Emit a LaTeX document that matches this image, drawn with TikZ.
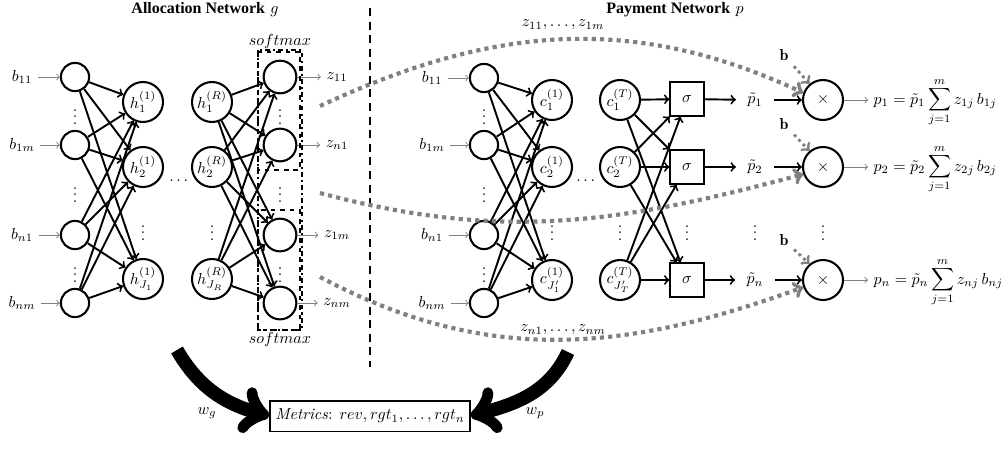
\documentclass[tikz,border=0pt]{standalone}
\usepackage{amsmath}
\usepackage{fontspec}
\newfontfamily\titlefont{Liberation Serif}

\begin{document}
\begin{tikzpicture}[x=0.022cm, y=0.022cm, >=to,
    inpt/.style={circle, draw, line width=1.3pt, inner sep=0pt, minimum size=0.62cm},
    hidn/.style={circle, draw, line width=1.3pt, inner sep=0pt, minimum size=0.88cm},
    outpt/.style={circle, draw, line width=1.3pt, inner sep=0pt, minimum size=0.72cm},
    sigbox/.style={rectangle, draw, line width=1.3pt, inner sep=0pt, minimum size=0.73cm},
    conn/.style={->, line width=1.2pt},
    inarr/.style={->, gray, line width=0.6pt},
    zflow/.style={->, gray, line width=2.6pt, dash pattern=on 2.6pt off 2.6pt},
    bflow/.style={->, gray, line width=1.8pt, dash pattern=on 1.8pt off 2.2pt},
    bigarr/.style={->, line width=8.5pt}]

  \useasboundingbox (0,0) rectangle (1003,-448);

  % titles and divider
  \node (atitle) at (205,-10) {{\titlefont\bfseries Allocation Network} $g$};
  \node (ptitle) at (675,-10) {{\titlefont\bfseries Payment Network} $p$};
  \draw[line width=1.4pt, dash pattern=on 5pt off 3.5pt] (370,-8) -- (370,-367);

  % allocation network
  \node[inpt] (ain1) at (75,-77) {};
  \node[inpt] (ain2) at (75,-145) {};
  \node[inpt] (ain3) at (75,-235) {};
  \node[inpt] (ain4) at (75,-303) {};
  \node (ab1) at (22,-77) {$b_{11}$};
  \node (ab2) at (22,-145) {$b_{1m}$};
  \node (ab3) at (22,-235) {$b_{n1}$};
  \node (ab4) at (22,-303) {$b_{nm}$};
  \foreach \i in {1,...,4} \draw[inarr] (ab\i) -- (ain\i);

  \node[hidn] (ha1) at (143,-102) {$h^{(1)}_1$};
  \node[hidn] (ha2) at (143,-167) {$h^{(1)}_2$};
  \node[hidn] (ha3) at (143,-279) {$h^{(1)}_{J_1}$};
  \node[hidn] (hr1) at (212,-102) {$h^{(R)}_1$};
  \node[hidn] (hr2) at (212,-167) {$h^{(R)}_2$};
  \node[hidn] (hr3) at (212,-279) {$h^{(R)}_{J_R}$};

  \node[outpt] (aout1) at (280,-77) {};
  \node[outpt] (aout2) at (280,-145) {};
  \node[outpt] (aout3) at (280,-235) {};
  \node[outpt] (aout4) at (280,-303) {};
  \node (az1) at (337,-77) {$z_{11}$};
  \node (az2) at (337,-145) {$z_{n1}$};
  \node (az3) at (337,-235) {$z_{1m}$};
  \node (az4) at (337,-303) {$z_{nm}$};
  \foreach \i in {1,...,4} \draw[inarr] (aout\i) -- (az\i);

  \foreach \i in {1,...,4}
    \foreach \j in {1,2,3}
      \draw[conn] (ain\i) -- (ha\j);
  \foreach \i in {1,2,3}
    \foreach \j in {1,...,4}
      \draw[conn] (hr\i) -- (aout\j);

  \foreach \y in {112,190,270} {
    \node at (75,-\y) {$\vdots$};
    \node at (280,-\y) {$\vdots$};
  }
  \node at (143,-228) {$\vdots$};
  \node at (212,-228) {$\vdots$};
  \node at (180,-181) {$\dots$};

  % softmax boxes
  \draw[line width=1.3pt, dash dot] (258,-50) rectangle (302,-330);
  \draw[line width=1.3pt, dashed] (258,-52) rectangle (300,-170);
  \draw[line width=1.3pt, dashed] (258,-210) rectangle (300,-330);
  \node (smtop) at (280,-42) {$softmax$};
  \node (smbot) at (280,-339) {$softmax$};

  % payment network
  \node[inpt] (pin1) at (484,-78) {};
  \node[inpt] (pin2) at (484,-145) {};
  \node[inpt] (pin3) at (484,-235) {};
  \node[inpt] (pin4) at (484,-303) {};
  \node (pb1) at (432,-78) {$b_{11}$};
  \node (pb2) at (432,-145) {$b_{1m}$};
  \node (pb3) at (432,-235) {$b_{n1}$};
  \node (pb4) at (432,-303) {$b_{nm}$};
  \foreach \i in {1,...,4} \draw[inarr] (pb\i) -- (pin\i);

  \node[hidn] (pc1) at (552,-100) {$c^{(1)}_1$};
  \node[hidn] (pc2) at (552,-167) {$c^{(1)}_2$};
  \node[hidn] (pc3) at (552,-280) {$c^{(1)}_{J'_1}$};
  \node[hidn] (pct1) at (620,-100) {$c^{(T)}_1$};
  \node[hidn] (pct2) at (620,-167) {$c^{(T)}_2$};
  \node[hidn] (pct3) at (620,-280) {$c^{(T)}_{J'_T}$};

  \node[sigbox] (sig1) at (687,-99) {$\sigma$};
  \node[sigbox] (sig2) at (687,-167) {$\sigma$};
  \node[sigbox] (sig3) at (687,-280) {$\sigma$};
  \node[inner xsep=7pt] (ptil1) at (755,-100) {$\tilde{p}_1$};
  \node[inner xsep=7pt] (ptil2) at (755,-167) {$\tilde{p}_2$};
  \node[inner xsep=7pt] (ptil3) at (755,-280) {$\tilde{p}_n$};
  \node[hidn] (mul1) at (823,-100) {$\times$};
  \node[hidn] (mul2) at (823,-167) {$\times$};
  \node[hidn] (mul3) at (823,-280) {$\times$};
  \node[anchor=base west] (pay1) at (868,-104)
    {$p_1 = \tilde{p}_1 \displaystyle\sum_{j=1}^{m} z_{1j}\, b_{1j}$};
  \node[anchor=base west] (pay2) at (868,-171)
    {$p_2 = \tilde{p}_2 \displaystyle\sum_{j=1}^{m} z_{2j}\, b_{2j}$};
  \node[anchor=base west] (pay3) at (868,-284)
    {$p_n = \tilde{p}_n \displaystyle\sum_{j=1}^{m} z_{nj}\, b_{nj}$};

  \foreach \i in {1,...,4}
    \foreach \j in {1,2,3}
      \draw[conn] (pin\i) -- (pc\j);
  \foreach \i in {1,2,3}
    \foreach \j in {1,2,3}
      \draw[conn] (pct\i) -- (sig\j);
  \foreach \i in {1,2,3} {
    \draw[conn] (sig\i) -- (ptil\i);
    \draw[conn] (ptil\i) -- (mul\i);
    \draw[inarr] (mul\i) -- (mul\i -| pay\i.west);
  }

  \foreach \y in {112,190,270} \node at (484,-\y) {$\vdots$};
  \foreach \x in {552,620,687,755,823} \node at (\x,-228) {$\vdots$};
  \node at (587,-181) {$\dots$};

  % bid vectors into the multipliers
  \node (bv1) at (784,-55) {$\mathbf{b}$};
  \node (bv2) at (784,-124) {$\mathbf{b}$};
  \node (bv3) at (784,-240) {$\mathbf{b}$};
  \foreach \i in {1,2,3} \draw[bflow] (bv\i) -- (mul\i.130);

  % allocations passed to the payment network
  \coordinate (zs1) at (320,-106);
  \coordinate (zs2) at (320,-193);
  \coordinate (zs3) at (320,-277);
  \draw[zflow] (zs1) to[out=25,in=155] (mul1.160);
  \draw[zflow] (zs2) to[out=-15,in=195] (mul2.200);
  \draw[zflow] (zs3) to[out=-28,in=200] (mul3.200);
  \node (ztop) at (563,-25) {$z_{11},\ldots,z_{1m}$};
  \node (zbot) at (563,-330) {$z_{n1},\ldots,z_{nm}$};

  % metrics
  \node[draw, line width=1.2pt, minimum height=0.68cm] (metrics) at (370,-416)
    {\textit{Metrics}: $rev, rgt_1, \ldots, rgt_n$};
  \coordinate (gstart) at (177,-350);
  \coordinate (pstart) at (568,-352);
  \draw[bigarr] (gstart) to[out=-60,in=165] (metrics.west);
  \draw[bigarr] (pstart) to[out=245,in=15] (metrics.east);
  \node (wg) at (207,-413) {$w_g$};
  \node (wp) at (535,-413) {$w_p$};
\end{tikzpicture}
\end{document}
